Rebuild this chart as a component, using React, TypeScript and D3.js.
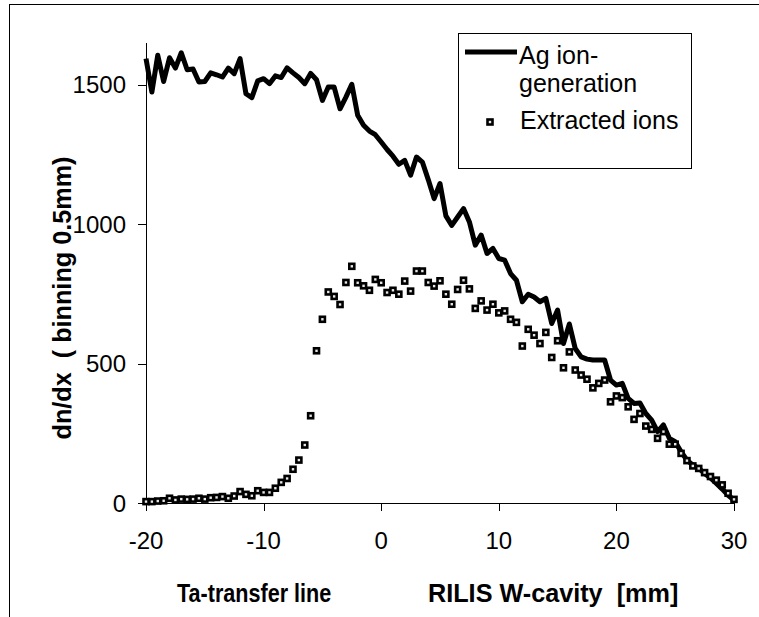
import { useEffect, useRef } from "react";
import * as d3 from "d3";

// bins of 0.5 mm from -20 to 30 mm
const X_START = -20;
const BIN = 0.5;

const agGeneration = [
  1594, 1474, 1606, 1512, 1597, 1560, 1615, 1554, 1557, 1510,
  1512, 1543, 1536, 1528, 1560, 1540, 1594, 1468, 1454, 1514,
  1522, 1504, 1532, 1526, 1561, 1543, 1526, 1504, 1541, 1518,
  1444, 1492, 1492, 1414, 1456, 1502, 1391, 1355, 1334, 1321,
  1295, 1268, 1244, 1215, 1229, 1176, 1241, 1223, 1160, 1092,
  1146, 1030, 996, 1026, 1056, 1008, 925, 961, 895, 913,
  877, 871, 823, 799, 722, 749, 739, 722, 734, 644,
  692, 572, 642, 554, 524, 516, 513, 513, 513, 441,
  423, 429, 375, 357, 359, 321, 297, 256, 280, 232,
  220, 184, 154, 136, 124, 106, 90, 70, 50, 28,
  11,
];

const extracted = [
  5, 5, 7, 8, 17, 11, 14, 13, 14, 17,
  14, 19, 20, 23, 17, 25, 41, 31, 26, 44,
  38, 38, 53, 74, 88, 121, 154, 208, 313, 546,
  659, 757, 741, 712, 791, 849, 790, 779, 763, 802,
  790, 755, 763, 749, 796, 760, 832, 832, 791, 778,
  797, 749, 713, 766, 799, 768, 698, 725, 692, 713,
  682, 689, 659, 648, 563, 623, 602, 572, 612, 522,
  582, 485, 542, 477, 459, 444, 413, 429, 441, 363,
  384, 378, 345, 300, 321, 276, 264, 232, 256, 211,
  211, 178, 152, 133, 124, 109, 95, 82, 65, 35,
  13,
];

const xTicks = [-20, -10, 0, 10, 20, 30];
const yTicks = [0, 500, 1000, 1500];

const FONT = "'Liberation Sans', Arial, Helvetica, sans-serif";

export default function App() {
  const ref = useRef<SVGSVGElement>(null);

  useEffect(() => {
    const el = ref.current;
    if (!el) return;
    const W = 759, H = 617;
    const svg = d3.select(el).attr("width", W).attr("height", H).attr("viewBox", `0 0 ${W} ${H}`);
    svg.selectAll("*").remove();

    const x = d3.scaleLinear().domain([-20, 30]).range([146, 734]);
    const y = d3.scaleLinear().domain([0, 1650]).range([503, 43]);
    const xOf = (_d: number, i: number) => x(X_START + i * BIN);

    // outer frame (runs off the right and bottom)
    svg.append("rect").attr("x", 9.5).attr("y", 4.5).attr("width", 900).attr("height", 800)
      .attr("fill", "#fff").attr("stroke", "#000").attr("stroke-width", 1);

    // axes
    svg.append("line").attr("x1", 146.5).attr("x2", 146.5).attr("y1", y(1650)).attr("y2", 503)
      .attr("stroke", "#000").attr("stroke-width", 1);
    svg.append("line").attr("x1", 146).attr("x2", 734.5).attr("y1", 503.5).attr("y2", 503.5)
      .attr("stroke", "#000").attr("stroke-width", 1);

    yTicks.forEach((t) => {
      const yy = Math.round(y(t)) + 0.5;
      svg.append("line").attr("x1", 138).attr("x2", 146).attr("y1", yy).attr("y2", yy).attr("stroke", "#000");
      svg.append("text").attr("x", 126).attr("y", y(t)).attr("dy", "0.36em").attr("text-anchor", "end")
        .attr("font-family", FONT).attr("font-size", 24).attr("fill", "#000").text(t);
    });
    xTicks.forEach((t) => {
      const xx = Math.round(x(t)) + 0.5;
      svg.append("line").attr("x1", xx).attr("x2", xx).attr("y1", 503).attr("y2", 511).attr("stroke", "#000");
      svg.append("text").attr("x", x(t)).attr("y", 549).attr("text-anchor", "middle")
        .attr("font-family", FONT).attr("font-size", 24).attr("fill", "#000").text(t);
    });

    // axis titles (bold, narrow)
    const title = (tx: string, transform: string, anchor = "start") =>
      svg.append("text").attr("transform", transform).attr("text-anchor", anchor)
        .attr("font-family", FONT).attr("font-size", 26).attr("font-weight", "bold")
        .style("white-space", "pre").text(tx);
    title("Ta-transfer line", "translate(177,602) scale(0.83,1)");
    title("RILIS W-cavity  [mm]", "translate(428,602) scale(0.97,1)");
    title("dn/dx  ( binning 0.5mm)", "translate(71,298) rotate(-90) scale(0.97,1)", "middle");

    // Ag ion-generation line
    const line = d3.line<number>().x(xOf).y((d) => y(d));
    svg.append("path").datum(agGeneration).attr("fill", "none").attr("stroke", "#000")
      .attr("stroke-width", 5).attr("stroke-linejoin", "round").attr("d", line);

    // extracted ions markers
    const s = 5;
    svg.append("g").selectAll("rect").data(extracted).join("rect")
      .attr("x", (d, i) => xOf(d, i) - s / 2).attr("y", (d) => y(d) - s / 2)
      .attr("width", s).attr("height", s).attr("fill", "#e8e8e8").attr("stroke", "#000").attr("stroke-width", 2.6);

    // legend
    const lg = svg.append("g");
    lg.append("rect").attr("x", 458.5).attr("y", 33.5).attr("width", 233).attr("height", 135)
      .attr("fill", "#fff").attr("stroke", "#000").attr("stroke-width", 1);
    lg.append("line").attr("x1", 465).attr("x2", 517).attr("y1", 52).attr("y2", 52)
      .attr("stroke", "#000").attr("stroke-width", 5);
    lg.append("text").attr("x", 519).attr("y", 64).attr("font-family", FONT).attr("font-size", 25).text("Ag ion-");
    lg.append("text").attr("x", 519).attr("y", 92).attr("font-family", FONT).attr("font-size", 25).text("generation");
    lg.append("rect").attr("x", 490 - s / 2).attr("y", 122 - s / 2).attr("width", s).attr("height", s)
      .attr("fill", "#e8e8e8").attr("stroke", "#000").attr("stroke-width", 2.6);
    lg.append("text").attr("x", 520).attr("y", 129).attr("font-family", FONT).attr("font-size", 25).text("Extracted ions");
  }, []);

  return (
    <div style={{ position: "absolute", left: 0, top: 0 }}>
      <svg ref={ref} role="img" aria-label="Ag ion generation and extracted ions" style={{ display: "block" }} />
    </div>
  );
}
